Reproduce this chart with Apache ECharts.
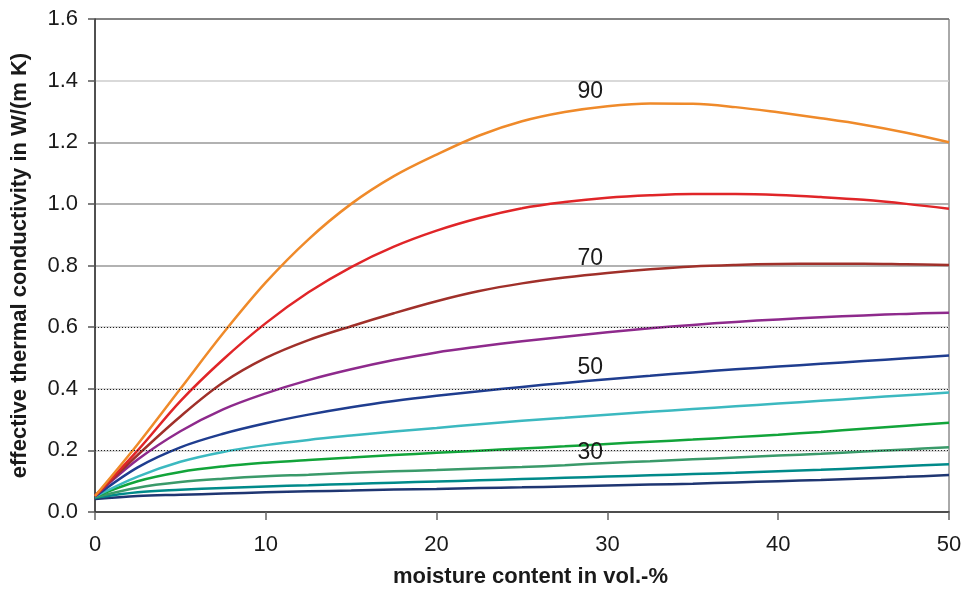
<!DOCTYPE html>
<html>
<head>
<meta charset="utf-8">
<script src="https://cdn.jsdelivr.net/npm/echarts@6/dist/echarts.min.js"></script>
<style>
html,body{margin:0;padding:0;background:#fff;}
#chart{width:965px;height:593px;}
</style>
</head>
<body>
<div id="chart"></div>
<script>
// moisture content (vol.-%)
const moisture = [0, 2.5, 5, 7.5, 10, 12.5, 15, 17.5, 20, 22.5, 25, 27.5, 30, 32.5, 35, 37.5, 40, 42.5, 45, 47.5, 50];
// curve names
const curveNames = ['0', '10', '20', '30', '40', '50', '60', '70', '80', '90'];
// effective thermal conductivity W/(m K)
const k0  = [0.042, 0.052, 0.056, 0.060, 0.064, 0.067, 0.070, 0.073, 0.075, 0.078, 0.080, 0.083, 0.086, 0.089, 0.092, 0.096, 0.100, 0.104, 0.109, 0.114, 0.120];
const k10 = [0.046, 0.064, 0.072, 0.078, 0.083, 0.087, 0.091, 0.095, 0.099, 0.103, 0.107, 0.111, 0.115, 0.119, 0.123, 0.127, 0.132, 0.137, 0.143, 0.149, 0.155];
const k20 = [0.048, 0.079, 0.097, 0.108, 0.116, 0.121, 0.127, 0.132, 0.136, 0.141, 0.146, 0.152, 0.159, 0.165, 0.171, 0.177, 0.183, 0.189, 0.196, 0.203, 0.210];
const k30 = [0.050, 0.100, 0.130, 0.148, 0.160, 0.169, 0.177, 0.185, 0.192, 0.199, 0.206, 0.213, 0.221, 0.228, 0.235, 0.243, 0.251, 0.260, 0.270, 0.280, 0.290];
const k40 = [0.050, 0.115, 0.163, 0.195, 0.217, 0.234, 0.248, 0.261, 0.273, 0.285, 0.296, 0.306, 0.316, 0.325, 0.334, 0.343, 0.352, 0.361, 0.370, 0.379, 0.388];
const k50 = [0.050, 0.145, 0.210, 0.254, 0.288, 0.316, 0.340, 0.360, 0.377, 0.392, 0.406, 0.419, 0.431, 0.442, 0.453, 0.463, 0.472, 0.481, 0.490, 0.499, 0.508];
const k60 = [0.052, 0.170, 0.262, 0.333, 0.385, 0.428, 0.463, 0.493, 0.518, 0.537, 0.554, 0.569, 0.583, 0.596, 0.607, 0.617, 0.625, 0.632, 0.638, 0.643, 0.647];
const k70 = [0.052, 0.185, 0.310, 0.420, 0.500, 0.558, 0.603, 0.645, 0.684, 0.717, 0.742, 0.761, 0.776, 0.788, 0.797, 0.802, 0.805, 0.806, 0.806, 0.804, 0.802];
const k80 = [0.052, 0.200, 0.360, 0.495, 0.613, 0.713, 0.795, 0.861, 0.913, 0.954, 0.986, 1.006, 1.020, 1.028, 1.032, 1.032, 1.029, 1.022, 1.013, 1.000, 0.984];
const k90 = [0.052, 0.220, 0.400, 0.580, 0.745, 0.885, 1.000, 1.090, 1.160, 1.222, 1.268, 1.298, 1.317, 1.326, 1.325, 1.314, 1.297, 1.278, 1.257, 1.231, 1.200];
const curves = [k0, k10, k20, k30, k40, k50, k60, k70, k80, k90];
// annotated curve labels: text, x, y (data units)
const annoText = ['90', '70', '50', '30'];
const annoX = [29, 29, 29, 29];
const annoY = [1.364, 0.823, 0.467, 0.191];
const yTicks = ['0.0', '0.2', '0.4', '0.6', '0.8', '1.0', '1.2', '1.4', '1.6'];

const colors = ['#1f3672', '#008a8a', '#3a9a6a', '#12a43a', '#3cb9c0', '#1f3d8f', '#8e2a8c', '#a0302a', '#e02528', '#ef8a2a'];
const FONT = 'Liberation Sans, Arial, sans-serif';

const series = curves.map((arr, i) => ({
  name: curveNames[i],
  type: 'line',
  data: moisture.map((x, j) => [x, arr[j]]),
  smooth: 0.35,
  showSymbol: false,
  symbol: 'none',
  z: 3,
  lineStyle: { color: colors[i], width: 2.5 },
  animation: false
}));

// dotted grid overlays
series.push({
  type: 'line',
  data: [],
  z: 2,
  silent: true,
  animation: false,
  markLine: {
    silent: true,
    symbol: 'none',
    animation: false,
    label: { show: false },
    lineStyle: { color: '#222', type: [1, 2], width: 1 },
    data: [{ yAxis: 0.2 }, { yAxis: 0.4 }, { yAxis: 0.6 }]
  }
});

// curve labels
series.push({
  type: 'scatter',
  data: annoText.map((t, i) => ({ value: [annoX[i], annoY[i]], name: t })),
  symbolSize: 1,
  itemStyle: { opacity: 0 },
  z: 5,
  silent: true,
  animation: false,
  label: {
    show: true,
    position: 'inside',
    formatter: p => p.name,
    fontFamily: FONT,
    fontSize: 23,
    color: '#1a1a1a',
    opacity: 1
  }
});

const chart = echarts.init(document.getElementById('chart'), null, { renderer: 'canvas' });
chart.setOption({
  backgroundColor: '#fff',
  animation: false,
  grid: { left: 95, right: 16, top: 19, bottom: 80, show: true, borderColor: '#555', borderWidth: 1, backgroundColor: 'transparent' },
  xAxis: {
    type: 'value', min: 0, max: 50, interval: 10,
    name: 'moisture content in vol.-%',
    nameLocation: 'middle', nameGap: 54,
    nameTextStyle: { fontFamily: FONT, fontSize: 22, fontWeight: 'bold', color: '#1a1a1a', padding: [0, 0, 0, 17] },
    axisLine: { show: true, lineStyle: { color: '#333', width: 1.5 } },
    axisTick: { show: true, inside: false, length: 8, lineStyle: { color: '#666', width: 1.5 } },
    axisLabel: { fontFamily: FONT, fontSize: 22, color: '#1a1a1a', margin: 22 },
    splitLine: { show: false }
  },
  yAxis: {
    type: 'value', min: 0, max: 1.6, interval: 0.2,
    name: 'effective thermal conductivity in W/(m K)',
    nameLocation: 'middle', nameGap: 64,
    nameTextStyle: { fontFamily: FONT, fontSize: 22, fontWeight: 'bold', color: '#1a1a1a' },
    axisLine: { show: true, lineStyle: { color: '#333', width: 1.5 } },
    axisTick: { show: true, inside: false, length: 7, lineStyle: { color: '#555', width: 1.5 } },
    axisLabel: {
      fontFamily: FONT, fontSize: 22, color: '#1a1a1a', margin: 17,
      formatter: (v) => yTicks[Math.round(v / 0.2)]
    },
    splitLine: { show: true, lineStyle: { color: ['#999', '#ccc', '#ccc', '#ccc', '#999', '#999', '#999', '#ccc', '#777'], width: 1.5 } }
  },
  series: series
});
</script>
</body>
</html>
